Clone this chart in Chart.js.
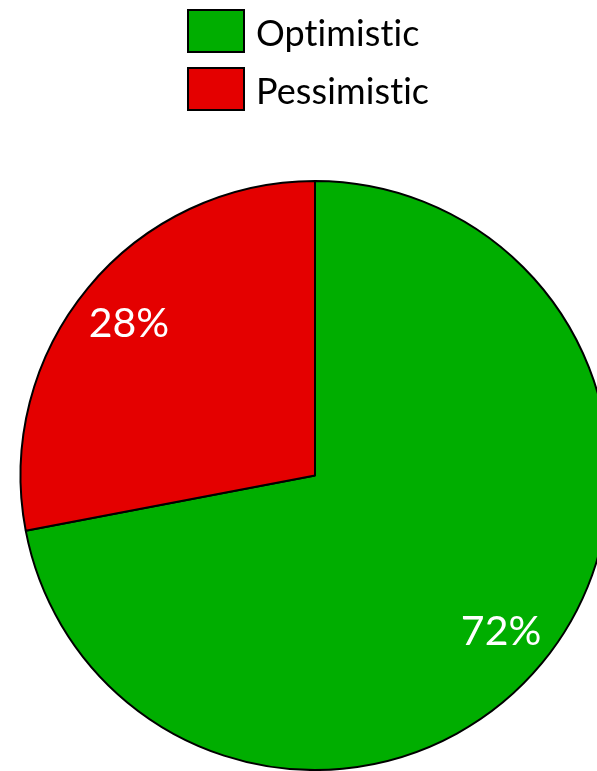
<!DOCTYPE html>
<html>
<head>
<meta charset="utf-8">
<script src="https://cdn.jsdelivr.net/npm/chart.js@4/dist/chart.umd.min.js"></script>
<style>
  html, body { margin: 0; padding: 0; background: #fff; overflow: hidden; width: 597px; height: 771px; }
  #wrap { position: absolute; left: 0; top: 0; width: 630px; height: 771px; }
</style>
</head>
<body>
<div id="wrap"><canvas id="c" width="630" height="771"></canvas></div>
<script>
const categories = ['Optimistic', 'Pessimistic'];
const shares = [72, 28];
const sliceColors = ['#00AE00', '#E40000'];

const FONT = 'Lato, "Open Sans", sans-serif';

const stackedLegend = {
  id: 'stackedLegend',
  afterDraw(chart) {
    const ctx = chart.ctx;
    const ds = chart.data.datasets[0];
    const boxX = 188, boxW = 56, boxH = 42, firstTop = 10, rowStep = 58, textX = 256;
    ctx.save();
    ctx.font = '36px ' + FONT;
    if ('letterSpacing' in ctx) ctx.letterSpacing = '0.1px';
    ctx.textBaseline = 'middle';
    ctx.textAlign = 'left';
    chart.data.labels.forEach((lab, i) => {
      const top = firstTop + i * rowStep;
      ctx.fillStyle = ds.backgroundColor[i];
      ctx.fillRect(boxX, top, boxW, boxH);
      ctx.lineWidth = 2;
      ctx.strokeStyle = '#000';
      ctx.strokeRect(boxX, top, boxW, boxH);
      ctx.fillStyle = '#000';
      ctx.fillText(lab, textX, top + boxH / 2 + 3);
    });
    ctx.restore();
  }
};

const sliceLabels = {
  id: 'sliceLabels',
  afterDatasetsDraw(chart) {
    const ctx = chart.ctx;
    const meta = chart.getDatasetMeta(0);
    const vals = chart.data.datasets[0].data;
    const total = vals.reduce((a, b) => a + b, 0);
    ctx.save();
    ctx.font = '41px ' + FONT;
    ctx.fillStyle = '#fff';
    ctx.textAlign = 'center';
    ctx.textBaseline = 'middle';
    meta.data.forEach((arc, i) => {
      const p = arc.getProps(['x', 'y', 'startAngle', 'endAngle', 'outerRadius'], true);
      const mid = (p.startAngle + p.endAngle) / 2;
      const r = p.outerRadius * 0.82;
      ctx.fillText(Math.round(vals[i] / total * 100) + '%', p.x + Math.cos(mid) * r, p.y + Math.sin(mid) * r + 2);
    });
    ctx.restore();
  }
};

new Chart(document.getElementById('c'), {
  type: 'pie',
  data: {
    labels: categories,
    datasets: [{
      data: shares,
      backgroundColor: sliceColors,
      borderColor: '#000',
      borderWidth: 2
    }]
  },
  options: {
    responsive: false,
    animation: false,
    layout: { padding: { top: 180, left: 0, right: 0, bottom: 0 } },
    plugins: {
      legend: { display: false },
      tooltip: { enabled: false }
    }
  },
  plugins: [sliceLabels, stackedLegend]
});
</script>
</body>
</html>
